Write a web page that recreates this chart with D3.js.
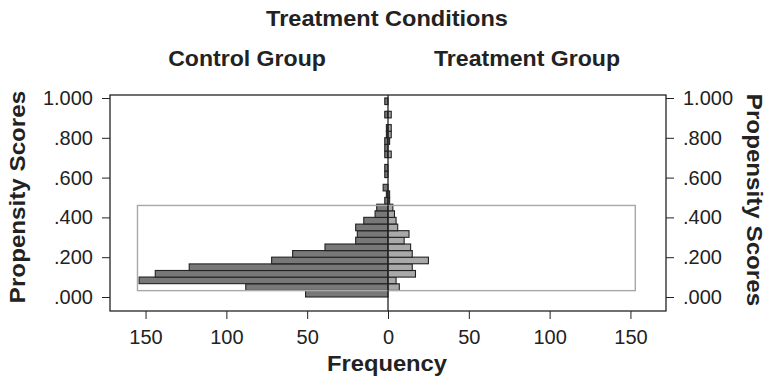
<!DOCTYPE html>
<html><head><meta charset="utf-8">
<script src="https://cdn.jsdelivr.net/npm/d3@7"></script>
<style>
html,body{margin:0;padding:0;background:#fff;}
svg{display:block;}
text{font-family:"Liberation Sans",Arial,Helvetica,sans-serif;fill:#222;}
</style></head>
<body>
<svg id="chart" width="767" height="379"></svg>
<script>
// Bin lower bounds of propensity scores (bin width 1/30)
const binLow = [0.000,0.033,0.067,0.100,0.133,0.167,0.200,0.233,0.267,0.300,
                0.333,0.367,0.400,0.433,0.467,0.500,0.533,0.567,0.600,0.633,
                0.667,0.700,0.733,0.767,0.800,0.833,0.867,0.900,0.933,0.967];
const binWidth = 0.0333;
const controlCounts = [51,88,154,144,123,72,59,39,20,19,
                       20,15,8,7,2,1,3,0,2,2,
                       0,2,2,2,1,1,0,2,0,2];
const treatmentCounts = [0,7,5,17,15,25,15,14,10,13,
                         6,5,4,3,1,1,0,0,0,0,
                         0,2,0,1,2,2,0,2,0,0];
const xTicks = [-150,-100,-50,0,50,100,150];
const yTicks = [0,0.2,0.4,0.6,0.8,1.0];
const yTickLabels = [".000",".200",".400",".600",".800","1.000"];
const supportBox = {x0:-155, x1:153, y0:0.032, y1:0.46};

(function(){
const svg = d3.select("#chart");
const pL = 110, pR = 666, pT = 95, pB = 311;
const x = d3.scaleLinear().domain([-172,172]).range([pL,pR]);
const y = d3.scaleLinear().domain([0,1]).range([297,98]);

// frame
svg.append("rect").attr("x",pL).attr("y",pT).attr("width",pR-pL).attr("height",pB-pT)
  .attr("fill","none").attr("stroke","#111").attr("stroke-width",1.2);

const rows = binLow.map((b,i)=>({lo:b, c:controlCounts[i], t:treatmentCounts[i]}));

// control bars (left)
svg.append("g").selectAll("rect").data(rows.filter(d=>d.c>0)).join("rect")
  .attr("x",d=>x(-d.c)).attr("width",d=>x(0)-x(-d.c))
  .attr("y",d=>y(d.lo+binWidth)).attr("height",d=>y(d.lo)-y(d.lo+binWidth))
  .attr("fill","#787878").attr("stroke","#222").attr("stroke-width",1.1);

// treatment bars (right)
svg.append("g").selectAll("rect").data(rows.filter(d=>d.t>0)).join("rect")
  .attr("x",x(0)).attr("width",d=>x(d.t)-x(0))
  .attr("y",d=>y(d.lo+binWidth)).attr("height",d=>y(d.lo)-y(d.lo+binWidth))
  .attr("fill","#a9a9a9").attr("stroke","#222").attr("stroke-width",1.1);

// region of common support box
svg.append("rect")
  .attr("x",x(supportBox.x0)).attr("width",x(supportBox.x1)-x(supportBox.x0))
  .attr("y",y(supportBox.y1)).attr("height",y(supportBox.y0)-y(supportBox.y1))
  .attr("fill","none").attr("stroke","#a8a8a8").attr("stroke-width",1.4);

// zero line
svg.append("line").attr("x1",x(0)).attr("x2",x(0)).attr("y1",pT).attr("y2",pB)
  .attr("stroke","#222").attr("stroke-width",1.3);

// x axis
const xAxis = d3.axisBottom(x).tickValues(xTicks).tickSize(8).tickPadding(11)
  .tickFormat(d=>Math.abs(d));
const gx = svg.append("g").attr("transform",`translate(0,${pB})`).call(xAxis);
gx.select(".domain").remove();
gx.selectAll("line").attr("stroke","#222");
gx.selectAll("text").attr("font-size",20).attr("font-family","Liberation Sans, Arial, sans-serif").attr("fill","#222");

// y axes
const fmt = d=>yTickLabels[yTicks.indexOf(d)];
const gyl = svg.append("g").attr("transform",`translate(${pL},0)`)
  .call(d3.axisLeft(y).tickValues(yTicks).tickSize(8).tickPadding(9).tickFormat(fmt));
const gyr = svg.append("g").attr("transform",`translate(${pR},0)`)
  .call(d3.axisRight(y).tickValues(yTicks).tickSize(8).tickPadding(9).tickFormat(fmt));
[gyl,gyr].forEach(g=>{
  g.select(".domain").remove();
  g.selectAll("line").attr("stroke","#222");
  g.selectAll("text").attr("font-size",20).attr("font-family","Liberation Sans, Arial, sans-serif").attr("fill","#222");
});

// titles (Helvetica-like bold, slightly wider than Arial)
const label = (tf, txt, sx) => svg.append("text")
  .attr("transform", tf + ` scale(${sx},1)`)
  .attr("font-weight","bold").attr("font-size",22).attr("text-anchor","middle").text(txt);
label("translate(387,26)", "Treatment Conditions", 1.07);
label("translate(247,66)", "Control Group", 1.05);
label("translate(527,66)", "Treatment Group", 1.05);
label("translate(387,371)", "Frequency", 1.08);
label("translate(25,197) rotate(-90)", "Propensity Scores", 1.1);
label("translate(747,200) rotate(90)", "Propensity Scores", 1.1);
})();
</script>
</body></html>
